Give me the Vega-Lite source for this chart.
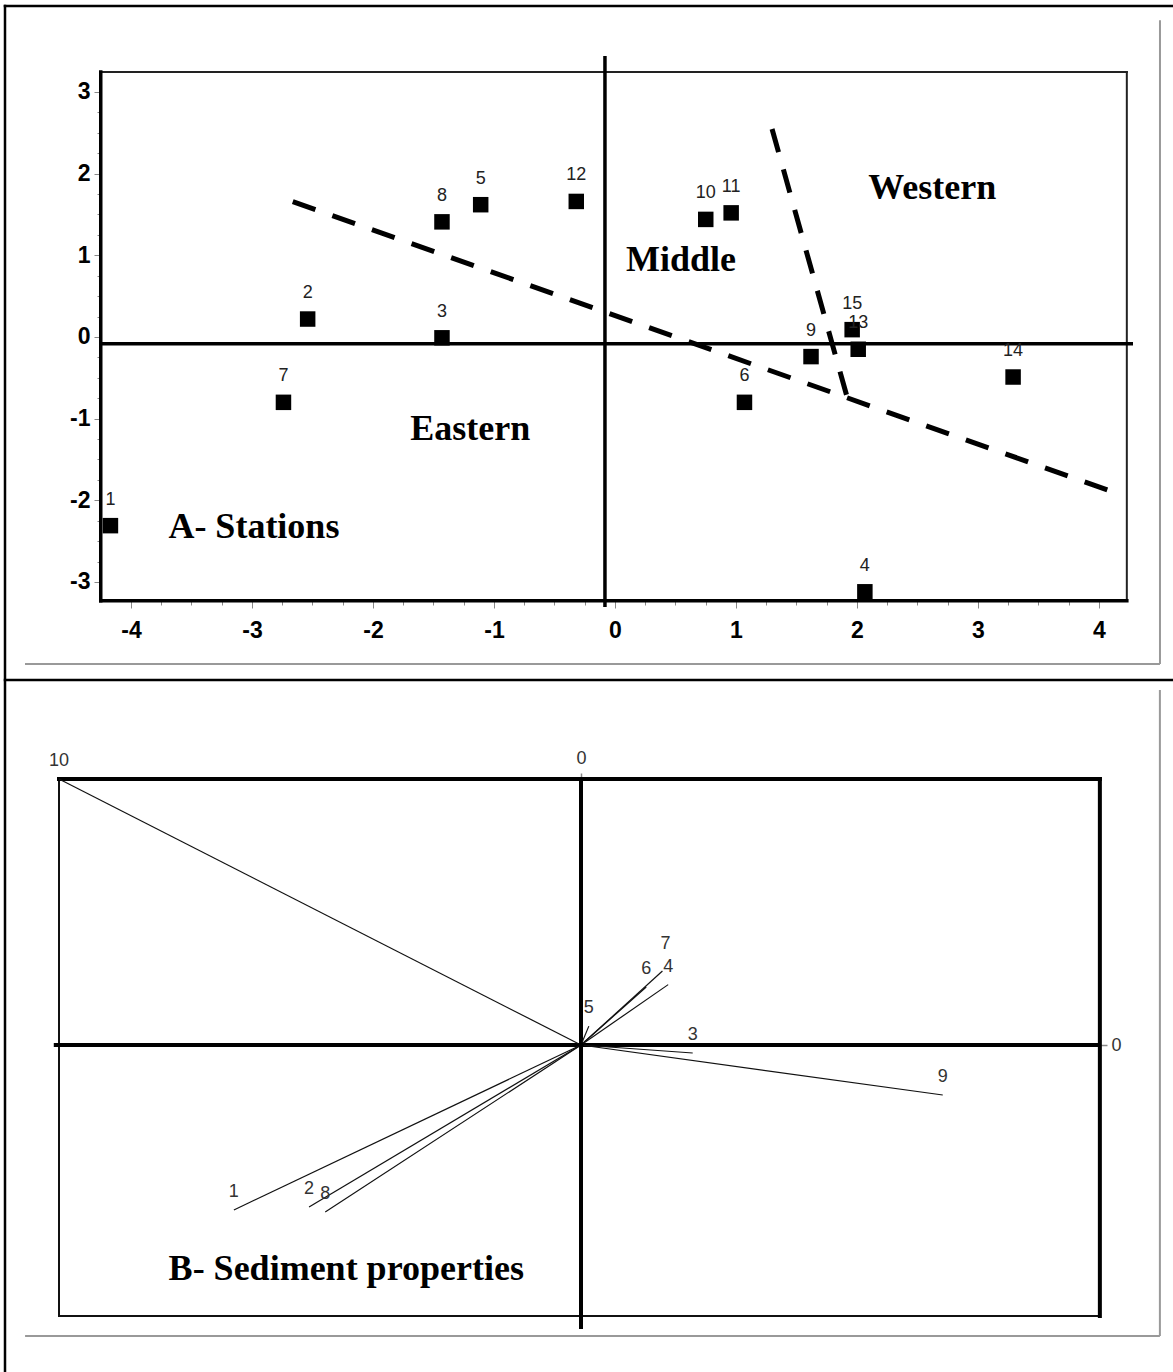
{
  "$schema": "https://vega.github.io/schema/vega-lite/v6.json",
  "width": 1173,
  "height": 1372,
  "autosize": {"type": "none"},
  "padding": 0,
  "background": "#ffffff",
  "config": {"view": {"stroke": null}, "axis": {"grid": false}},
  "datasets": {
    "stations": [
      {"id": "1", "x": -4.17, "y": -2.31},
      {"id": "2", "x": -2.54, "y": 0.22},
      {"id": "3", "x": -1.43, "y": -0.01},
      {"id": "4", "x": 2.065, "y": -3.12},
      {"id": "5", "x": -1.11, "y": 1.62},
      {"id": "6", "x": 1.07, "y": -0.8},
      {"id": "7", "x": -2.74, "y": -0.8},
      {"id": "8", "x": -1.43, "y": 1.41},
      {"id": "9", "x": 1.62, "y": -0.24},
      {"id": "10", "x": 0.75, "y": 1.44},
      {"id": "11", "x": 0.96, "y": 1.52},
      {"id": "12", "x": -0.32, "y": 1.66},
      {"id": "13", "x": 2.01, "y": -0.15},
      {"id": "14", "x": 3.29, "y": -0.49},
      {"id": "15", "x": 1.96, "y": 0.09}
    ],
    "boundaries": [
      {"seg": "a", "x": -2.663, "y": 1.658},
      {"seg": "a", "x": 4.071, "y": -1.873},
      {"seg": "b", "x": 1.298, "y": 2.547},
      {"seg": "b", "x": 1.92, "y": -0.745}
    ],
    "regionsCenter": [
      {"t": "Eastern", "x": -1.196, "y": -1.261},
      {"t": "Middle", "x": 0.545, "y": 0.808},
      {"t": "Western", "x": 2.622, "y": 1.684}
    ],
    "regionsLeft": [
      {"t": "A- Stations", "x": -3.691, "y": -2.458}
    ],
    "topFrameThick": [
      {"x": -4.25, "y": -3.23, "x2": -4.25, "y2": 3.245},
      {"x": -4.25, "y": -3.23, "x2": 4.23, "y2": -3.23}
    ],
    "topFrameThin": [
      {"x": -4.25, "y": 3.245, "x2": 4.23, "y2": 3.245},
      {"x": 4.23, "y": -3.23, "x2": 4.23, "y2": 3.245}
    ],
    "topCross": [
      {"x": -4.25, "y": -0.084, "x2": 4.281, "y2": -0.084},
      {"x": -0.083, "y": 3.441, "x2": -0.083, "y2": -3.306}
    ],
    "cellBlack": [
      {"x": -5.0413, "y": 4.053, "x2": 4.6116, "y2": 4.053},
      {"x": -5.0413, "y": 4.053, "x2": -5.0413, "y2": -12.6735},
      {"x": -5.0413, "y": -4.2, "x2": 4.6116, "y2": -4.2}
    ],
    "cellGreyTop": [
      {"x": 4.504, "y": 3.88, "x2": 4.504, "y2": -4.004},
      {"x": -4.876, "y": -4.004, "x2": 4.504, "y2": -4.004}
    ],
    "vectors": [
      {"id": "1", "x": -0.665, "y": -0.62},
      {"id": "2", "x": -0.521, "y": -0.609},
      {"id": "3", "x": 0.214, "y": -0.03},
      {"id": "4", "x": 0.167, "y": 0.227},
      {"id": "5", "x": 0.015, "y": 0.071},
      {"id": "6", "x": 0.125, "y": 0.218},
      {"id": "7", "x": 0.156, "y": 0.278},
      {"id": "8", "x": -0.49, "y": -0.628},
      {"id": "9", "x": 0.693, "y": -0.188},
      {"id": "10", "x": -1.0, "y": 1.0}
    ],
    "origin": [{"x": 0, "y": 0}],
    "bottomTitle": [{"t": "B- Sediment properties", "x": -0.79, "y": -0.883}],
    "botFrameThick": [
      {"x": -1, "y": 1, "x2": 0.994, "y2": 1},
      {"x": 0.994, "y": 1, "x2": 0.994, "y2": -1.0188}
    ],
    "botFrameThin": [
      {"x": -1, "y": 1, "x2": -1, "y2": -1.0188},
      {"x": -1, "y": -1.0188, "x2": 0.994, "y2": -1.0188}
    ],
    "botCross": [
      {"x": -1.01, "y": 0, "x2": 0.994, "y2": 0},
      {"x": 0, "y": 1, "x2": 0, "y2": -1.068}
    ],
    "cellGreyBottom": [
      {"x": 1.109, "y": 1.335, "x2": 1.109, "y2": -1.094},
      {"x": -1.065, "y": -1.094, "x2": 1.109, "y2": -1.094}
    ]
  },
  "layer": [
    {
      "encoding": {
        "x": {
          "field": "x", "type": "quantitative",
          "scale": {"domain": [-5.08264, 4.61157], "nice": false, "zero": false},
          "axis": {
            "orient": "bottom", "offset": -771, "title": null, "grid": false, "domain": false,
            "values": [-4,-3.75,-3.5,-3.25,-3,-2.75,-2.5,-2.25,-2,-1.75,-1.5,-1.25,-1,-0.75,-0.5,-0.25,0,0.25,0.5,0.75,1,1.25,1.5,1.75,2,2.25,2.5,2.75,3,3.25,3.5,3.75,4],
            "tickColor": "#888888", "tickWidth": 1,
            "tickSize": {"condition": {"test": "datum.value % 1 === 0", "value": 7}, "value": 4},
            "labelExpr": "datum.value % 1 === 0 ? '' + datum.value : ''",
            "labelFont": "Liberation Sans", "labelFontWeight": "bold", "labelFontSize": 23, "labelColor": "#000000",
            "labelPadding": 11, "labelOverlap": false, "labelFlush": false, "labelBound": false
          }
        },
        "y": {
          "field": "y", "type": "quantitative",
          "scale": {"domain": [-12.6735, 4.12653], "nice": false, "zero": false},
          "axis": {
            "orient": "left", "offset": -101, "title": null, "grid": false, "domain": false,
            "values": [-3,-2.75,-2.5,-2.25,-2,-1.75,-1.5,-1.25,-1,-0.75,-0.5,-0.25,0,0.25,0.5,0.75,1,1.25,1.5,1.75,2,2.25,2.5,2.75,3],
            "tickColor": "#888888", "tickWidth": 1,
            "tickSize": {"condition": {"test": "datum.value % 1 === 0", "value": 7}, "value": 4},
            "labelExpr": "datum.value % 1 === 0 ? '' + datum.value : ''",
            "labelFont": "Liberation Sans", "labelFontWeight": "bold", "labelFontSize": 23, "labelColor": "#000000",
            "labelPadding": 4, "labelOverlap": false, "labelFlush": false, "labelBound": false
          }
        }
      },
      "layer": [
        {"data": {"name": "cellGreyTop"}, "mark": {"type": "rule", "stroke": "#999999", "strokeWidth": 2},
         "encoding": {"x2": {"field": "x2"}, "y2": {"field": "y2"}}},
        {"data": {"name": "cellBlack"}, "mark": {"type": "rule", "stroke": "#000000", "strokeWidth": 2.5, "strokeCap": "square"},
         "encoding": {"x2": {"field": "x2"}, "y2": {"field": "y2"}}},
        {"data": {"name": "topFrameThin"}, "mark": {"type": "rule", "stroke": "#222222", "strokeWidth": 2, "strokeCap": "square"},
         "encoding": {"x2": {"field": "x2"}, "y2": {"field": "y2"}}},
        {"data": {"name": "topFrameThick"}, "mark": {"type": "rule", "stroke": "#000000", "strokeWidth": 3.5, "strokeCap": "square"},
         "encoding": {"x2": {"field": "x2"}, "y2": {"field": "y2"}}},
        {"data": {"name": "topCross"}, "mark": {"type": "rule", "stroke": "#000000", "strokeWidth": 3.5},
         "encoding": {"x2": {"field": "x2"}, "y2": {"field": "y2"}}},
        {"data": {"name": "boundaries"}, "mark": {"type": "line", "color": "#000000", "strokeWidth": 5, "strokeDash": [24, 18]},
         "encoding": {"detail": {"field": "seg"}}},
        {"data": {"name": "stations"}, "mark": {"type": "square", "color": "#000000", "filled": true, "size": 240, "opacity": 1}},
        {"data": {"name": "stations"}, "mark": {"type": "text", "dy": -26, "fontSize": 18, "font": "Liberation Sans", "fill": "#222222", "baseline": "middle", "align": "center"},
         "encoding": {"text": {"field": "id"}}},
        {"data": {"name": "regionsCenter"}, "mark": {"type": "text", "align": "center", "baseline": "alphabetic", "font": "Liberation Serif", "fontWeight": "bold", "fontSize": 36, "fill": "#000000"},
         "encoding": {"text": {"field": "t"}}},
        {"data": {"name": "regionsLeft"}, "mark": {"type": "text", "align": "left", "baseline": "alphabetic", "font": "Liberation Serif", "fontWeight": "bold", "fontSize": 36, "fill": "#000000"},
         "encoding": {"text": {"field": "t"}}}
      ]
    },
    {
      "encoding": {
        "x": {
          "field": "x", "type": "quantitative",
          "scale": {"domain": [-1.11303, 1.1341], "nice": false, "zero": false},
          "axis": {
            "orient": "top", "offset": -779, "title": null, "grid": false, "domain": false,
            "values": [0], "tickColor": "#888888", "tickWidth": 1.5, "tickSize": 6,
            "labelFont": "Liberation Sans", "labelFontSize": 18, "labelColor": "#333333", "labelPadding": 6,
            "labelOverlap": false, "labelFlush": false, "labelBound": false
          }
        },
        "y": {
          "field": "y", "type": "quantitative",
          "scale": {"domain": [-1.22932, 3.92857], "nice": false, "zero": false},
          "axis": {
            "orient": "right", "offset": -73, "title": null, "grid": false, "domain": false,
            "values": [0], "tickColor": "#888888", "tickWidth": 1.5, "tickSize": 7,
            "labelFont": "Liberation Sans", "labelFontSize": 18, "labelColor": "#333333", "labelPadding": 4,
            "labelOverlap": false, "labelFlush": false, "labelBound": false
          }
        }
      },
      "layer": [
        {"data": {"name": "cellGreyBottom"}, "mark": {"type": "rule", "stroke": "#999999", "strokeWidth": 2},
         "encoding": {"x2": {"field": "x2"}, "y2": {"field": "y2"}}},
        {"data": {"name": "botFrameThin"}, "mark": {"type": "rule", "stroke": "#111111", "strokeWidth": 2, "strokeCap": "square"},
         "encoding": {"x2": {"field": "x2"}, "y2": {"field": "y2"}}},
        {"data": {"name": "botFrameThick"}, "mark": {"type": "rule", "stroke": "#000000", "strokeWidth": 4, "strokeCap": "square"},
         "encoding": {"x2": {"field": "x2"}, "y2": {"field": "y2"}}},
        {"data": {"name": "botCross"}, "mark": {"type": "rule", "stroke": "#000000", "strokeWidth": 4},
         "encoding": {"x2": {"field": "x2"}, "y2": {"field": "y2"}}},
        {"data": {"name": "vectors"}, "mark": {"type": "rule", "stroke": "#111111", "strokeWidth": 1.2},
         "encoding": {"x2": {"datum": 0}, "y2": {"datum": 0}}},
        {"data": {"name": "origin"}, "mark": {"type": "point", "shape": "circle", "filled": true, "color": "#000000", "size": 30, "opacity": 1}},
        {"data": {"name": "vectors"}, "transform": [{"filter": "datum.id !== '7'"}],
         "mark": {"type": "text", "dy": -18, "fontSize": 18, "font": "Liberation Sans", "fill": "#333333", "baseline": "middle", "align": "center"},
         "encoding": {"text": {"field": "id"}}},
        {"data": {"name": "vectors"}, "transform": [{"filter": "datum.id === '7'"}],
         "mark": {"type": "text", "dy": -27, "dx": 3, "fontSize": 18, "font": "Liberation Sans", "fill": "#333333", "baseline": "middle", "align": "center"},
         "encoding": {"text": {"field": "id"}}},
        {"data": {"name": "bottomTitle"}, "mark": {"type": "text", "align": "left", "baseline": "alphabetic", "font": "Liberation Serif", "fontWeight": "bold", "fontSize": 36, "fill": "#000000"},
         "encoding": {"text": {"field": "t"}}}
      ]
    }
  ],
  "resolve": {
    "scale": {"x": "independent", "y": "independent"},
    "axis": {"x": "independent", "y": "independent"}
  }
}
